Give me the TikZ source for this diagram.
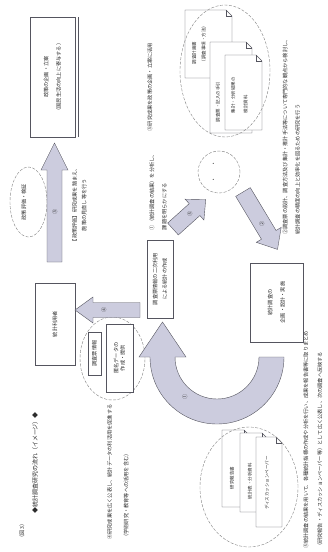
\documentclass[tikz,border=0pt]{standalone}
\usepackage{fontspec}
\setmainfont{Noto Sans CJK JP}
\usetikzlibrary{shapes.geometric,calc}
\definecolor{arrowgray}{RGB}{204,204,222}
\definecolor{linegray}{RGB}{85,85,95}
\definecolor{inkgray}{RGB}{45,45,45}
% sheet of paper with folded corner: x1,y1,x2,y2
\newcommand{\docsheet}[4]{%
  \filldraw[fill=white,draw=linegray,thin] (#1,#2) -- ({#3-6},#2) -- (#3,{#2+6}) -- (#3,#4) -- (#1,#4) -- cycle;
  \draw[linegray,thin] ({#3-6},#2) -- ({#3-6},{#2+6}) -- (#3,{#2+6});
}
% fat arrow: tail, angle, length, shaft width, head width, head length
\newcommand{\fatarrow}[6]{%
  \begin{scope}[shift={#1},rotate=#2]
    \filldraw[fill=arrowgray,draw=linegray,thin] (0,{-#4/2}) -- ({#3-#6},{-#4/2}) -- ({#3-#6},{-#5/2})
      -- (#3,0) -- ({#3-#6},{#5/2}) -- ({#3-#6},{#4/2}) -- (0,{#4/2}) -- cycle;
  \end{scope}
}

\begin{document}
\begin{tikzpicture}[x=1pt,y=-1pt,
  box/.style={draw=linegray,thin,fill=white,inner sep=0pt,text=inkgray},
  vtext/.style={rotate=90,text=inkgray,inner sep=0pt},
  dashring/.style={ellipse,draw=gray,dash pattern=on 3pt off 1.5pt,thin,inner sep=0pt}]
	\tikzstyle{every node}=[font=\fontsize{5.2}{6.5}\selectfont]
	\path[use as bounding box,fill=white] (0,0) rectangle (327,552);

	% pages in the rings
	\docsheet{185}{10}{232}{78}
	\docsheet{210}{42}{252}{133}
	\docsheet{225}{55}{262}{130}
	\docsheet{222}{430}{250}{507}
	\docsheet{240}{433}{268}{512}
	\docsheet{256}{437}{282}{527}

	% dashed rings
	\node[dashring, minimum width=90pt, minimum height=132pt] (surveyring) at (225,71) {};
	\node[dashring, minimum width=42pt, minimum height=42pt] (midring) at (219,172) {};
	\node[dashring, minimum width=37pt, minimum height=70pt] (evalring) at (28.5,202) {};
	\node[dashring, minimum width=65pt, minimum height=83pt] (dataring) at (112.5,358.5) {};
	\node[dashring, minimum width=98pt, minimum height=120pt] (reportring) at (249,487) {};

	% boxes
	\node[box, rotate=90, minimum width=120pt, minimum height=45pt, align=center] (policy) at (52.5,77) {政策の企画・立案\\[6pt]（国民生活の向上に寄与する）};
	\draw[linegray] ($(policy.south west)+(2.5,0)$) -- ($(policy.south east)+(2.5,0)$);
	\node[box, rotate=90, minimum width=82pt, minimum height=40pt] (user) at (55,324) {統計利用者};
	\node[box, rotate=90, minimum width=78pt, minimum height=26pt, align=center] (central) at (160,279) {調査票情報の二次利用\\[3pt]による統計の作成};
	\node[box, rotate=90, minimum width=79pt, minimum height=53pt, align=center] (survey) at (276.5,302.5) {統計調査の\\[6pt]企画・設計・実施};
	\node[box, rotate=90, minimum width=43pt, minimum height=13pt] (microdata) at (94.5,353.5) {調査票情報};
	\node[box, rotate=90, minimum width=68pt, minimum height=27pt, align=center] (anondata) at (119.5,358) {匿名データの\\作成・提供};

	% block arrows
	\fatarrow{(54.5,262)}{90}{119}{15}{27}{27}
	\fatarrow{(140,310)}{180}{65}{15}{26}{18}
	\fatarrow{(173,229)}{42}{44}{16}{28}{15}
	\fatarrow{(243,192)}{-59}{67}{17}{29}{17}
	\filldraw[fill=arrowgray,draw=linegray,thin]
		(284,357) arc[start angle=0,end angle=180,radius=67]
		-- (139,357) -- (162.5,322) -- (186,357) -- (175,357)
		arc[start angle=180,end angle=0,radius=42] -- cycle;

	% numbers on arrows
	\node[vtext] (num1) at (185,397) {①};
	\node[vtext] (num2) at (262,224) {②};
	\node[vtext] (num3) at (55,212) {③};
	\node[vtext] (num4) at (104,310) {④};
	\node[vtext] (num5) at (190,214) {⑤};

	% texts in rings
	\node[vtext] (evaltext) at (24,202) {政策評価・検証};
	\node[vtext] (dots) at (214,172) {・　　・};
	\node[vtext, font=\fontsize{4.5}{5.5}\selectfont, align=left] (sheet1) at (199,44) {調査計画書\\[4pt]（調査事項・方法）};
	\node[vtext, font=\fontsize{4.5}{5.5}\selectfont] (sheet2) at (218,102) {調査票・記入の手引};
	\node[vtext, font=\fontsize{4.5}{5.5}\selectfont, align=left] (sheet3) at (239.5,95) {集計・分析結果の\\[7pt]検討資料};
	\node[vtext, font=\fontsize{4.5}{5.5}\selectfont] (sheet4) at (232,478) {研究報告書};
	\node[vtext, font=\fontsize{4.5}{5.5}\selectfont] (sheet5) at (250,481) {統計表・分析資料};
	\node[vtext, font=\fontsize{4.5}{5.5}\selectfont] (sheet6) at (267,483) {ディスカッションペーパー};

	% captions
	\node[vtext] (capthree) at (150,87) {③研究成果を政策の企画・立案に活用};
	\node[vtext, align=left] (capone) at (158,191) {①（統計調査の結果）を分析し、\\[6pt]課題を明らかにする};
	\node[vtext, align=center] (capeval) at (79.5,205) {【政策評価】研究成果を踏まえ、\\[3pt]施策の見直し等を行う};
	\node[vtext, align=left] (captwo) at (291.5,136) {②調査票の設計、調査方法及び集計・推計手法等について専門的な観点から検討し、\\[6pt]統計調査の精度の向上と効率化を図るための研究を行う};
	\node[vtext, align=left] (capfour) at (118,472) {④研究成果を広く公表し、統計データの利活用を促進する\\[10pt]（学術研究・教育等への活用を含む）};
	\node[vtext, align=left] (capfive) at (313,440) {⑤統計調査の結果を用いて、各種統計指標の作成や分析を行い、成果を報告書等に取りまとめ\\[7.5pt]（研究報告・ディスカッションペーパー等）として広く公表し、次の調査へ反映する};

	% legend
	\node[vtext, font=\fontsize{6}{7}\selectfont] (legend) at (35,463) {◆統計調査研究の流れ（イメージ）◆};
	\node[vtext] (figlabel) at (22,531) {（図3）};
\end{tikzpicture}
\end{document}
